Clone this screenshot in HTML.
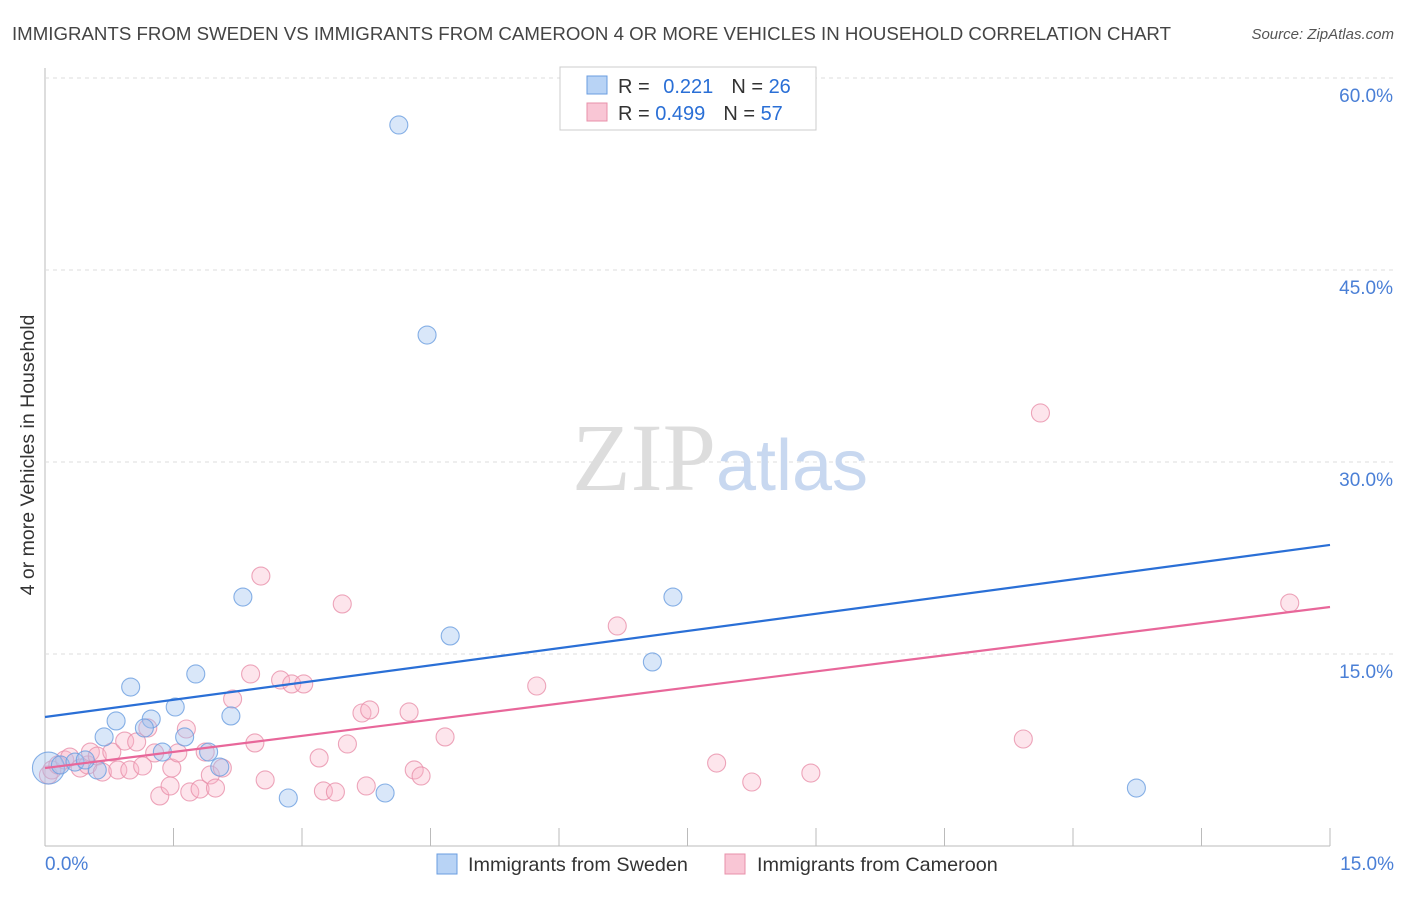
<!DOCTYPE html>
<html><head><meta charset="utf-8"><style>
body{margin:0;background:#fff;font-family:"Liberation Sans",sans-serif;}
</style></head><body>
<svg width="1406" height="892" xmlns="http://www.w3.org/2000/svg" font-family="Liberation Sans, sans-serif">
<text x="12" y="40" font-size="18.6" fill="#444" textLength="1159" lengthAdjust="spacingAndGlyphs">IMMIGRANTS FROM SWEDEN VS IMMIGRANTS FROM CAMEROON 4 OR MORE VEHICLES IN HOUSEHOLD CORRELATION CHART</text>
<text x="1394" y="39" font-size="15" fill="#555" text-anchor="end" font-style="italic">Source: ZipAtlas.com</text>
<g id="grid"></g>
<text x="720" y="490" font-size="96" text-anchor="middle" fill="#ddd" font-family="Liberation Serif, serif">ZIP<tspan fill="#c8d8f0" font-family="Liberation Sans, sans-serif" font-size="72">atlas</tspan></text>
<g id="marks"></g>
<text transform="translate(34,455) rotate(-90)" font-size="19.5" fill="#333" text-anchor="middle">4 or more Vehicles in Household</text>
<text x="45" y="870" font-size="19" fill="#4a7fd6">0.0%</text>
<text x="1394" y="870" font-size="19" fill="#4a7fd6" text-anchor="end">15.0%</text>
<g>
<rect x="560" y="67" width="256" height="63" fill="#fff" stroke="#ccc"/>
<rect x="587" y="76" width="20" height="18" fill="#b8d3f5" stroke="#6a9de0"/>
<rect x="587" y="103" width="20" height="18" fill="#f9c6d5" stroke="#e890aa"/>
<text x="618" y="93" font-size="20" fill="#333">R = <tspan fill="#2a6fd6" dx="8">0.221</tspan><tspan dx="18" fill="#333">N = </tspan><tspan fill="#2a6fd6">26</tspan></text>
<text x="618" y="120" font-size="20" fill="#333">R = <tspan fill="#2a6fd6">0.499</tspan><tspan dx="18" fill="#333">N = </tspan><tspan fill="#2a6fd6">57</tspan></text>
</g>
<g>
<rect x="437" y="854" width="20" height="20" fill="#b8d3f5" stroke="#6a9de0"/>
<text x="468" y="871" font-size="19.8" fill="#333">Immigrants from Sweden</text>
<rect x="725" y="854" width="20" height="20" fill="#f9c6d5" stroke="#e890aa"/>
<text x="757" y="871" font-size="19.8" fill="#333">Immigrants from Cameroon</text>
</g>
</svg>
<script>
const yTicks=[15,30,45,60];
const yTickLabels=["15.0%","30.0%","45.0%","60.0%"];
const xTicks=[0,1.5,3,4.5,6,7.5,9,10.5,12,13.5,15];
const swedenX=[0.04,0.18,0.35,0.61,0.47,0.69,0.83,1.00,1.24,1.16,1.37,1.52,1.63,1.76,1.91,2.04,2.17,2.31,2.84,3.97,4.13,4.46,4.73,7.09,7.33,12.74];
const swedenY=[6.09,6.33,6.56,5.94,6.72,8.52,9.77,12.42,9.92,9.22,7.34,10.86,8.52,13.44,7.34,6.17,10.16,19.45,3.75,4.14,56.33,39.92,16.41,14.38,19.45,4.53];
const cameroonX=[0.04,0.08,0.15,0.23,0.29,0.41,0.50,0.53,0.61,0.67,0.78,0.85,0.93,0.99,1.07,1.14,1.20,1.28,1.34,1.46,1.48,1.55,1.65,1.69,1.81,1.87,1.93,1.99,2.07,2.19,2.45,2.40,2.52,2.57,2.75,2.88,3.02,3.20,3.25,3.39,3.47,3.53,3.70,3.75,3.79,4.25,4.31,4.39,4.67,5.74,6.68,7.84,8.25,8.94,11.42,11.62,14.53];
const cameroonY=[5.55,5.94,6.33,6.72,6.95,6.09,6.33,7.34,7.03,5.78,7.34,5.94,8.20,5.94,8.13,6.25,9.22,7.27,3.91,4.69,6.09,7.27,9.14,4.22,4.45,7.34,5.55,4.53,6.09,11.48,8.05,13.44,21.09,5.16,12.97,12.66,12.66,6.88,4.30,4.22,18.91,7.97,10.39,4.69,10.63,10.47,5.94,5.47,8.52,12.50,17.19,6.48,5.00,5.70,8.36,33.83,18.98];
const swedenTrend=[10.08,23.52];
const cameroonTrend=[6.09,18.67];
const NS="http://www.w3.org/2000/svg";
const X=v=>45+v/15*1285, Y=v=>846-v/60*768;
function mk(t,a,p){const e=document.createElementNS(NS,t);for(const k in a)e.setAttribute(k,a[k]);p.appendChild(e);return e;}
const grid=document.getElementById('grid'),marks=document.getElementById('marks');
let ax=mk('line',{x1:45,y1:68,x2:45,y2:846,stroke:'#bbb'},grid);


let bx=mk('line',{x1:45,y1:846,x2:1330,y2:846,stroke:'#bbb'},grid);


yTicks.forEach((t,i)=>{
 const g=mk('line',{x1:45,x2:1393,y1:Y(t),y2:Y(t),stroke:'#ddd','stroke-dasharray':'4,4'},grid);
 
 
 const l=mk('text',{x:1393,y:Y(t)+24,'font-size':19,fill:'#4a7fd6','text-anchor':'end'},grid);
 l.textContent=yTickLabels[i];
 
 
});
xTicks.forEach(t=>{
 const k=mk('line',{x1:X(t),x2:X(t),y1:828,y2:846,stroke:'#bbb'},grid);
 
 
});
function pts(xs,ys,fill,stroke,name){
 xs.forEach((x,i)=>{
  const c=mk('circle',{cx:X(x),cy:Y(ys[i]),r:(name==='sweden-point'&&i===0)?16:9,fill:fill,stroke:stroke,'stroke-width':1.1,'stroke-opacity':0.8},marks);
  
  
 });
}
pts(cameroonX,cameroonY,'rgba(248,180,200,0.35)','#e890aa','cameroon-point');
pts(swedenX,swedenY,'rgba(160,195,240,0.4)','#6a9de0','sweden-point');
let l1=mk('line',{x1:X(0),y1:Y(swedenTrend[0]),x2:X(15),y2:Y(swedenTrend[1]),stroke:'#2a6fd6','stroke-width':2.2},marks);


let l2=mk('line',{x1:X(0),y1:Y(cameroonTrend[0]),x2:X(15),y2:Y(cameroonTrend[1]),stroke:'#e8679a','stroke-width':2.2},marks);


</script>
</body></html>
